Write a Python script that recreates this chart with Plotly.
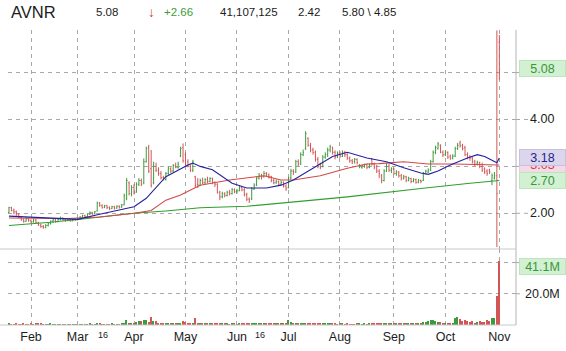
import plotly.graph_objects as go

# ---------------- data ----------------
ticker = "AVNR"
month_labels = ["Feb", "Mar", "Apr", "May", "Jun", "Jul", "Aug", "Sep", "Oct", "Nov"]
month_idx = [9, 28, 51, 72, 93, 114, 135, 157, 178, 200]
day_labels = ["16", "16"]
day_idx = [38.4, 102.5]

opens = [
    2.02, 2.12, 2.07, 2.03, 1.97, 1.92, 1.86, 1.83, 1.88, 1.85,
    1.82, 1.86, 1.80, 1.75, 1.72, 1.70, 1.74, 1.78, 1.83, 1.86,
    1.82, 1.87, 1.90, 1.86, 1.85, 1.88, 1.84, 1.87, 1.86, 1.89,
    1.92, 1.95, 1.93, 1.98, 2.02, 1.99, 2.05, 2.22, 2.17, 2.13,
    2.16, 2.12, 2.10, 2.14, 2.11, 2.15, 2.13, 2.18, 2.32, 2.65,
    2.42, 2.55, 2.45, 2.62, 2.70, 2.65, 3.10, 3.40, 2.95, 2.65,
    3.00, 2.92, 2.85, 2.76, 2.72, 2.85, 2.95, 2.90, 3.02, 2.98,
    3.22, 3.40, 3.25, 3.10, 3.00, 2.92, 2.78, 2.62, 2.60, 2.70,
    2.65, 2.72, 2.68, 2.74, 2.66, 2.62, 2.45, 2.35, 2.42, 2.38,
    2.45, 2.42, 2.50, 2.46, 2.48, 2.55, 2.50, 2.40, 2.30, 2.30,
    2.52, 2.60, 2.75, 2.80, 2.78, 2.85, 2.82, 2.78, 2.70, 2.65,
    2.68, 2.62, 2.66, 2.58, 2.55, 2.75, 2.90, 2.88, 3.10, 3.05,
    3.25, 3.38, 3.60, 3.45, 3.35, 3.30, 3.15, 3.05, 3.00, 3.20,
    3.25, 3.35, 3.40, 3.30, 3.20, 3.28, 3.22, 3.30, 3.25, 3.18,
    3.12, 3.10, 3.15, 3.00, 2.98, 3.00, 3.04, 2.98, 3.15, 3.05,
    3.00, 2.90, 2.80, 2.70, 2.90, 3.00, 2.92, 2.95, 2.85, 2.88,
    2.80, 2.75, 2.78, 2.70, 2.74, 2.68, 2.72, 2.66, 2.70, 2.70,
    2.85, 2.88, 2.92, 3.10, 3.30, 3.38, 3.45, 3.30, 3.25, 3.30,
    3.22, 3.18, 3.22, 3.38, 3.50, 3.45, 3.40, 3.25, 3.20, 3.18,
    3.10, 3.05, 3.08, 3.00, 2.95, 2.90, 2.92, 2.70, 2.75, 2.80,
    5.65,
]
highs = [
    2.14, 2.14, 2.10, 2.06, 2.00, 1.94, 1.89, 1.92, 1.90, 1.87,
    1.89, 1.88, 1.82, 1.78, 1.75, 1.77, 1.80, 1.85, 1.88, 1.88,
    1.89, 1.93, 1.91, 1.88, 1.90, 1.89, 1.89, 1.89, 1.91, 1.94,
    1.97, 1.97, 2.00, 2.04, 2.03, 2.05, 2.25, 2.24, 2.19, 2.18,
    2.18, 2.15, 2.16, 2.16, 2.17, 2.17, 2.20, 2.42, 2.75, 2.68,
    2.60, 2.62, 2.66, 2.75, 2.74, 3.17, 3.42, 3.46, 3.35, 3.10,
    3.08, 2.98, 2.90, 2.80, 2.88, 3.00, 2.98, 3.05, 3.08, 3.10,
    3.42, 3.49, 3.30, 3.15, 3.04, 3.14, 2.80, 2.75, 2.74, 2.76,
    2.75, 2.78, 2.77, 2.76, 2.68, 2.64, 2.48, 2.46, 2.45, 2.48,
    2.50, 2.54, 2.53, 2.52, 2.60, 2.58, 2.54, 2.44, 2.34, 2.56,
    2.64, 2.78, 2.86, 2.84, 2.90, 2.88, 2.85, 2.80, 2.74, 2.72,
    2.70, 2.70, 2.68, 2.62, 2.78, 2.95, 2.94, 3.14, 3.15, 3.30,
    3.36, 3.75, 3.62, 3.50, 3.40, 3.34, 3.20, 3.08, 3.24, 3.30,
    3.40, 3.46, 3.42, 3.34, 3.32, 3.32, 3.34, 3.33, 3.28, 3.21,
    3.16, 3.18, 3.17, 3.05, 3.04, 3.06, 3.06, 3.06, 3.18, 3.08,
    3.03, 2.94, 2.84, 2.94, 3.07, 3.06, 2.98, 2.97, 2.92, 2.90,
    2.84, 2.82, 2.80, 2.78, 2.76, 2.75, 2.74, 2.73, 2.72, 2.88,
    2.93, 2.96, 3.14, 3.34, 3.44, 3.52, 3.47, 3.34, 3.34, 3.32,
    3.25, 3.26, 3.42, 3.50, 3.55, 3.48, 3.44, 3.30, 3.24, 3.20,
    3.14, 3.12, 3.10, 3.08, 2.98, 2.94, 2.95, 2.85, 2.88, 5.90,
    5.80,
]
lows = [
    2.00, 2.04, 1.98, 1.95, 1.90, 1.84, 1.80, 1.82, 1.82, 1.79,
    1.80, 1.78, 1.73, 1.69, 1.67, 1.68, 1.72, 1.76, 1.80, 1.80,
    1.81, 1.85, 1.84, 1.82, 1.83, 1.82, 1.83, 1.84, 1.85, 1.87,
    1.90, 1.90, 1.92, 1.96, 1.96, 1.98, 2.04, 2.14, 2.10, 2.11,
    2.09, 2.07, 2.09, 2.08, 2.10, 2.10, 2.12, 2.17, 2.28, 2.38,
    2.36, 2.40, 2.44, 2.58, 2.58, 2.62, 3.08, 2.86, 2.55, 2.62,
    2.88, 2.80, 2.72, 2.70, 2.70, 2.82, 2.86, 2.88, 2.96, 2.95,
    3.20, 3.08, 3.00, 2.98, 2.88, 2.88, 2.55, 2.54, 2.58, 2.62,
    2.62, 2.64, 2.66, 2.62, 2.56, 2.42, 2.28, 2.32, 2.34, 2.36,
    2.38, 2.40, 2.43, 2.42, 2.47, 2.47, 2.36, 2.26, 2.22, 2.28,
    2.50, 2.58, 2.72, 2.72, 2.76, 2.78, 2.74, 2.66, 2.62, 2.63,
    2.58, 2.60, 2.55, 2.48, 2.53, 2.72, 2.82, 2.86, 3.00, 3.03,
    3.22, 3.35, 3.42, 3.30, 3.25, 3.10, 2.96, 2.94, 2.98, 3.16,
    3.20, 3.30, 3.25, 3.15, 3.18, 3.18, 3.20, 3.20, 3.14, 3.08,
    3.05, 3.06, 3.04, 2.96, 2.95, 2.97, 2.94, 2.96, 3.02, 2.94,
    2.86, 2.75, 2.64, 2.68, 2.88, 2.88, 2.86, 2.82, 2.80, 2.76,
    2.70, 2.72, 2.66, 2.68, 2.64, 2.66, 2.63, 2.64, 2.64, 2.69,
    2.83, 2.86, 2.90, 3.08, 3.26, 3.36, 3.28, 3.20, 3.22, 3.16,
    3.14, 3.15, 3.20, 3.35, 3.40, 3.34, 3.22, 3.15, 3.12, 3.06,
    3.00, 3.02, 2.96, 2.88, 2.84, 2.80, 2.84, 2.60, 2.72, 1.28,
    4.85,
]
closes = [
    2.12, 2.06, 2.03, 1.97, 1.92, 1.86, 1.83, 1.88, 1.85, 1.82,
    1.86, 1.80, 1.75, 1.72, 1.70, 1.74, 1.78, 1.83, 1.86, 1.82,
    1.87, 1.90, 1.86, 1.85, 1.88, 1.84, 1.87, 1.86, 1.89, 1.92,
    1.95, 1.93, 1.98, 2.02, 1.99, 2.03, 2.22, 2.17, 2.13, 2.16,
    2.12, 2.10, 2.14, 2.11, 2.15, 2.13, 2.18, 2.38, 2.70, 2.42,
    2.55, 2.45, 2.62, 2.70, 2.62, 3.10, 3.38, 2.90, 2.60, 3.00,
    2.92, 2.85, 2.76, 2.72, 2.85, 2.95, 2.90, 3.02, 2.98, 3.05,
    3.38, 3.12, 3.05, 3.00, 2.92, 3.10, 2.60, 2.60, 2.70, 2.65,
    2.72, 2.68, 2.74, 2.66, 2.62, 2.45, 2.35, 2.42, 2.38, 2.45,
    2.42, 2.50, 2.46, 2.48, 2.55, 2.50, 2.40, 2.30, 2.26, 2.52,
    2.60, 2.75, 2.80, 2.78, 2.85, 2.82, 2.78, 2.70, 2.65, 2.68,
    2.62, 2.66, 2.58, 2.52, 2.75, 2.90, 2.88, 3.10, 3.05, 3.25,
    3.30, 3.70, 3.45, 3.35, 3.30, 3.15, 3.00, 2.98, 3.20, 3.25,
    3.35, 3.42, 3.30, 3.20, 3.28, 3.22, 3.30, 3.25, 3.18, 3.12,
    3.10, 3.15, 3.08, 3.02, 3.02, 3.04, 2.98, 3.03, 3.05, 2.98,
    2.90, 2.85, 2.70, 2.90, 3.00, 2.92, 2.95, 2.85, 2.88, 2.80,
    2.75, 2.78, 2.70, 2.74, 2.68, 2.72, 2.66, 2.70, 2.68, 2.85,
    2.90, 2.92, 3.10, 3.30, 3.40, 3.48, 3.30, 3.25, 3.30, 3.20,
    3.18, 3.22, 3.38, 3.45, 3.45, 3.38, 3.25, 3.20, 3.18, 3.10,
    3.05, 3.08, 3.00, 2.92, 2.88, 2.85, 2.88, 2.80, 2.80, 2.42,
    5.08,
]
volume_m = [
    0.9, 0.6, 0.5, 0.7, 0.6, 0.5, 0.8, 0.6, 0.5, 0.7,
    0.6, 0.9, 0.7, 0.8, 0.6, 0.5, 0.6, 0.7, 0.5, 0.4,
    0.5, 0.6, 0.4, 0.5, 0.4, 0.5, 0.4, 0.3, 0.5, 0.6,
    0.5, 0.4, 0.6, 0.7, 0.5, 0.6, 1.4, 0.8, 0.6, 0.5,
    0.6, 0.5, 0.7, 0.5, 0.6, 0.5, 0.8, 1.6, 3.2, 1.4,
    1.2, 1.5, 1.8, 2.6, 2.4, 3.0, 3.3, 2.0, 5.4, 2.4,
    2.5, 1.2, 1.0, 0.9, 0.8, 1.3, 1.5, 0.9, 1.0, 0.8,
    0.9, 2.5, 1.8, 1.2, 1.0, 1.1, 4.6, 1.6, 1.0, 0.8,
    0.9, 0.7, 0.8, 0.7, 1.0, 1.3, 1.6, 0.9, 0.8, 0.7,
    0.6, 0.8, 0.7, 0.6, 0.8, 0.7, 0.9, 1.1, 1.2, 1.4,
    1.0, 1.1, 0.9, 0.8, 1.0, 0.8, 0.7, 0.8, 0.9, 0.7,
    0.8, 0.7, 1.2, 1.4, 3.2, 2.0, 1.3, 1.5, 1.1, 1.2,
    1.0, 1.4, 1.2, 0.9, 0.8, 0.9, 1.0, 0.8, 0.9, 0.7,
    0.8, 0.9, 0.8, 0.7, 0.6, 0.7, 0.8, 0.6, 0.7, 0.6,
    0.5, 0.6, 0.7, 0.8, 0.6, 0.7, 0.6, 0.8, 0.9, 0.8,
    1.0, 0.9, 1.1, 1.2, 1.0, 0.9, 0.8, 0.9, 1.0, 0.8,
    0.9, 1.0, 0.8, 0.9, 1.1, 1.0, 1.2, 1.1, 1.3, 1.8,
    2.2, 2.4, 3.0, 3.3, 2.8, 2.2, 1.8, 1.4, 1.2, 1.0,
    1.1, 1.6, 4.2, 5.4, 3.6, 2.5, 3.0, 2.6, 1.8, 2.4,
    1.6, 2.2, 2.6, 2.0, 1.8, 3.2, 2.4, 4.4, 4.6, 18.6,
    41.107125,
]

# moving averages, read at points along each line
ma_blue_idx = [0, 17, 28, 37, 51, 56, 64, 73, 75, 78, 83, 91, 97, 105, 111, 116,
               124, 132, 138, 146, 154, 161, 168, 171, 175, 180, 187, 191, 194, 199, 200]
ma_blue_val = [1.94, 1.90, 1.87, 1.98, 2.14, 2.32, 2.78, 3.03, 3.07, 3.00, 2.93, 2.64,
               2.54, 2.54, 2.60, 2.71, 2.96, 3.21, 3.30, 3.18, 3.10, 2.97, 2.86, 2.83,
               2.90, 3.03, 3.18, 3.25, 3.21, 3.08, 3.18]
ma_red_idx = [0, 24, 37, 51, 58, 64, 70, 78, 90, 104, 111, 116, 127, 138, 146, 151,
              161, 171, 181, 199, 200]
ma_red_val = [1.90, 1.89, 1.92, 2.00, 2.06, 2.28, 2.39, 2.60, 2.71, 2.80, 2.71, 2.71,
              2.80, 2.96, 3.05, 3.06, 3.10, 3.05, 3.05, 3.02, 3.03]
ma_green_idx = [0, 17, 30, 51, 64, 78, 97, 111, 124, 138, 151, 168, 188, 200]
ma_green_val = [1.74, 1.81, 1.88, 2.00, 2.05, 2.12, 2.15, 2.21, 2.28, 2.35, 2.43,
                2.53, 2.64, 2.70]

price_ticks = [2, 3, 4, 5]
price_ticktext = ["2.00", "", "4.00", ""]
vol_ticks = [20, 40]

header_change = "+2.66"
header_volume = "41,107,125"
header_prev = "2.42"
header_range = "5.80 \\ 4.85"

# ---------------- styling ----------------
W, H = 566, 351
ML, MR, MT, MB = 8, 50, 30, 26
PLOT_W = W - ML - MR
PLOT_H = H - MT - MB
SPLIT = (325 - 249) / PLOT_H

GREEN = "#3c9b3c"
RED = "#d25656"
BLUE = "#2222a0"
GRID = "#a8a8a8"
FONT = "Liberation Sans, Arial, sans-serif"
TXT = "#1c1c1c"

idx = list(range(len(closes)))
vol_colors = [GREEN if c >= o else RED for o, c in zip(opens, closes)]

fig = go.Figure()
fig.add_trace(go.Ohlc(
    x=idx, open=opens, high=highs, low=lows, close=closes,
    increasing=dict(line=dict(color=GREEN, width=1)),
    decreasing=dict(line=dict(color=RED, width=1)),
    tickwidth=0.35, xaxis="x", yaxis="y", hoverinfo="skip"))
fig.add_trace(go.Scatter(x=ma_green_idx, y=ma_green_val, mode="lines",
                         line=dict(color="#2f9f2f", width=1.1), xaxis="x", yaxis="y"))
fig.add_trace(go.Scatter(x=ma_red_idx, y=ma_red_val, mode="lines",
                         line=dict(color="#d24848", width=1.1), xaxis="x", yaxis="y"))
fig.add_trace(go.Scatter(x=ma_blue_idx, y=ma_blue_val, mode="lines",
                         line=dict(color=BLUE, width=1.1), xaxis="x", yaxis="y"))
fig.add_trace(go.Bar(x=idx, y=volume_m, marker=dict(color=vol_colors, line=dict(width=0)),
                     width=0.55, xaxis="x2", yaxis="y2"))

xr = [-0.39, 206.8]
common_x = dict(range=xr, showgrid=True, gridcolor=GRID, griddash="4px,4px", gridwidth=1,
                zeroline=False, showline=False, tickvals=month_idx, fixedrange=True)
fig.update_layout(
    width=W, height=H, margin=dict(l=ML, r=MR, t=MT, b=MB),
    paper_bgcolor="white", plot_bgcolor="white", showlegend=False,
    font=dict(family=FONT, color=TXT),
    bargap=0,
    xaxis=dict(common_x, anchor="y", showticklabels=False, rangeslider=dict(visible=False)),
    xaxis2=dict(common_x, anchor="y2", ticktext=month_labels, ticks="",
                ticklabelstandoff=2,
                tickfont=dict(size=12.5, color=TXT, family=FONT)),
    yaxis=dict(domain=[SPLIT, 1], range=[1.239, 5.908], side="right", tickvals=price_ticks,
               showticklabels=False, showgrid=True, gridcolor=GRID, griddash="4px,4px",
               zeroline=False, showline=False),
    yaxis2=dict(domain=[0, SPLIT], range=[0, 48.7], side="right", tickvals=vol_ticks,
                showticklabels=False, showgrid=True, gridcolor=GRID, griddash="4px,4px",
                zeroline=False, showline=False),
)

shapes = [
    dict(type="line", xref="paper", yref="paper", x0=1, x1=1, y0=0, y1=1,
         line=dict(color="#b4b4b4", width=1)),
    dict(type="line", xref="paper", yref="paper", x0=-0.02, x1=1, y0=SPLIT, y1=SPLIT,
         line=dict(color="#c8c8c8", width=1)),
    dict(type="line", xref="paper", yref="paper", x0=-0.02, x1=1, y0=0, y1=0,
         line=dict(color="#c8c8c8", width=1)),
]
for v in price_ticks:
    shapes.append(dict(type="line", xref="paper", xsizemode="pixel", xanchor=1, x0=0, x1=12,
                       yref="y", y0=v, y1=v, line=dict(color=GRID, width=1, dash="4px,4px")))
for v in vol_ticks:
    shapes.append(dict(type="line", xref="paper", xsizemode="pixel", xanchor=1, x0=0, x1=8,
                       yref="y2", y0=v, y1=v, line=dict(color=GRID, width=1, dash="4px,4px")))
fig.update_layout(shapes=shapes)

ann = []
def px(x):
    return (x - ML) / PLOT_W
def py(y):
    return (H - MB - y) / PLOT_H

# header
hy = py(12)
ann.append(dict(text=ticker, x=px(9), y=hy, font=dict(size=16.5, color=TXT)))
ann.append(dict(text=f"{closes[-1]:.2f}", x=px(94), y=hy, font=dict(size=11.5, color=TXT)))
ann.append(dict(text="\u2193", x=px(146), y=hy, font=dict(size=13.5, color="#d03030")))
ann.append(dict(text=header_change, x=px(162), y=hy, font=dict(size=11.5, color="#3a9d3a")))
ann.append(dict(text=header_volume, x=px(218), y=hy, font=dict(size=11.5, color=TXT)))
ann.append(dict(text=header_prev, x=px(296), y=hy, font=dict(size=11.5, color=TXT)))
ann.append(dict(text=header_range, x=px(340), y=hy, font=dict(size=11.5, color=TXT)))
for a in ann:
    a.update(xref="paper", yref="paper", xanchor="left", yanchor="middle", showarrow=False)

# right axis labels
for v, t in zip(price_ticks, price_ticktext):
    if t:
        ann.append(dict(text=t, xref="paper", x=1, xanchor="left", xshift=12, yref="y", y=v,
                        yanchor="middle", showarrow=False, font=dict(size=12.5, color=TXT)))
for v in vol_ticks[:1]:
    ann.append(dict(text=f"{v:.1f}M", xref="paper", x=1, xanchor="left", xshift=7, yref="y2",
                    y=v, yanchor="middle", showarrow=False, font=dict(size=12.5, color=TXT)))

# day markers
for d, t in zip(day_idx, day_labels):
    ann.append(dict(text=t, xref="x2", x=d, yref="paper", y=py(335), yanchor="middle",
                    showarrow=False, font=dict(size=9, color=TXT)))

def value_box(text, yref, y, bg, fg, border, yshift=0):
    return dict(text=text, xref="paper", x=1, xanchor="left", xshift=3, yref=yref, y=y,
                yanchor="middle", yshift=yshift, showarrow=False, width=45, height=15,
                align="center", valign="middle", bgcolor=bg, bordercolor=border,
                borderwidth=1, borderpad=0, font=dict(size=12.5, color=fg))

ann.append(value_box(f"{ma_red_val[-1]:.2f}", "y", ma_red_val[-1], "#f4dae6", "#d04040", "#ecc8d8"))
ann.append(value_box(f"{ma_blue_val[-1]:.2f}", "y", ma_blue_val[-1], "#dcd6ec", "#24248c", "#c8c0dc"))
ann.append(value_box(f"{ma_green_val[-1]:.2f}", "y", ma_green_val[-1], "#d2f0d2", "#3a963a", "#bde4bd"))
ann.append(value_box(f"{closes[-1]:.2f}", "y", closes[-1], "#d2f0d2", "#3a963a", "#bde4bd"))
ann.append(value_box(f"{volume_m[-1]:.1f}M", "y2", volume_m[-1], "#d2f0d2", "#3a963a", "#bde4bd", yshift=-6))

fig.update_layout(annotations=ann)
fig.write_html("out.html")
